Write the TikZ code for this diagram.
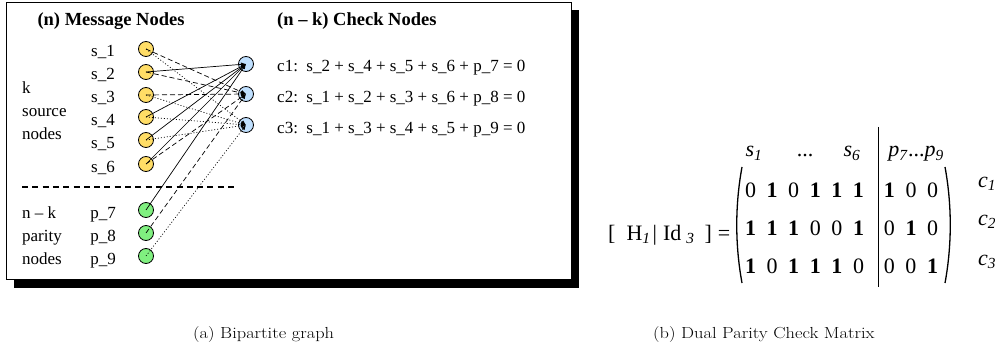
\documentclass[tikz,border=0pt]{standalone}
\usepackage{fontspec}
\usepackage{graphicx}
\usetikzlibrary{arrows.meta}
\newfontfamily\timesfont[Ligatures=TeX]{Liberation Serif}
\definecolor{graphink}{HTML}{000000}
\definecolor{sourcefill}{HTML}{FFDD66}
\definecolor{parityfill}{HTML}{80F080}
\definecolor{checkfill}{HTML}{C0E0FF}
\newcommand{\mcell}[1]{\makebox[21.6pt]{#1}}

\begin{document}
\begin{tikzpicture}[
  x=1pt,
  y=-1pt,
  every node/.style={font=\timesfont\fontsize{17}{20}\selectfont, inner sep=0pt},
  headtext/.style={font=\timesfont\bfseries\fontsize{18.5}{21}\selectfont},
  msgnode/.style={circle, draw=graphink, line width=0.8pt, minimum size=15pt, inner sep=0pt},
  srcnode/.style={msgnode, fill=sourcefill},
  parnode/.style={msgnode, fill=parityfill},
  chknode/.style={msgnode, fill=checkfill},
  edgetip/.style={graphink, line width=0.7pt, -{Latex[length=5pt,width=4pt]}},
  cone/.style={edgetip},
  ctwo/.style={edgetip, dash pattern=on 5pt off 3pt},
  cthree/.style={edgetip, dash pattern=on 1pt off 2pt},
  matnum/.style={font=\timesfont\fontsize{22}{24}\selectfont, anchor=base},
  captext/.style={font=\rmfamily\fontsize{16}{19}\selectfont, anchor=base west}
]
  \useasboundingbox (0,0) rectangle (995,358);

  % frame with shadow
  \fill[graphink] (14,279) rectangle (579,288);
  \fill[graphink] (571,10) rectangle (579,288);
  \draw[graphink, line width=0.9pt, fill=white] (6,2.5) rectangle (571.5,279);

  \node[headtext, anchor=base] (hmsg) at (111,26) {(n) Message Nodes};
  \node[headtext, anchor=base west] (hchk) at (277,26) {(n -- k) Check Nodes};

  \node[anchor=base west] (lk) at (22,94) {k};
  \node[anchor=base west] (lsrc) at (22,117) {source};
  \node[anchor=base west] (lnds) at (22,140) {nodes};
  \node[anchor=base west] (lnk) at (22,218) {n -- k};
  \node[anchor=base west] (lpar) at (22,241) {parity};
  \node[anchor=base west] (lndp) at (22,264) {nodes};

  \draw[graphink, line width=2.8pt, dash pattern=on 6pt off 4.3pt] (22,187) -- (238,187);

  % message nodes
  \node[srcnode] (s1) at (146,49) {};
  \node[srcnode] (s2) at (146,72) {};
  \node[srcnode] (s3) at (146,95) {};
  \node[srcnode] (s4) at (146,117) {};
  \node[srcnode] (s5) at (146,140) {};
  \node[srcnode] (s6) at (146,164) {};
  \node[parnode] (p7) at (146,210) {};
  \node[parnode] (p8) at (146,233) {};
  \node[parnode] (p9) at (146,256) {};

  \node[anchor=base] (ls1) at (103,57) {s\_1};
  \node[anchor=base] (ls2) at (103,80) {s\_2};
  \node[anchor=base] (ls3) at (103,103) {s\_3};
  \node[anchor=base] (ls4) at (103,126) {s\_4};
  \node[anchor=base] (ls5) at (103,149) {s\_5};
  \node[anchor=base] (ls6) at (103,173) {s\_6};
  \node[anchor=base] (lp7) at (103,218) {p\_7};
  \node[anchor=base] (lp8) at (103,241) {p\_8};
  \node[anchor=base] (lp9) at (103,264) {p\_9};

  % check nodes
  \node[chknode] (c1) at (246,64) {};
  \node[chknode] (c2) at (246,94) {};
  \node[chknode] (c3) at (246,125) {};

  \node[anchor=base west] (eq1) at (277,72) {c1:\ \ s\_2 + s\_4 + s\_5 + s\_6 + p\_7 = 0};
  \node[anchor=base west] (eq2) at (277,103) {c2:\ \ s\_1 + s\_2 + s\_3 + s\_6 + p\_8 = 0};
  \node[anchor=base west] (eq3) at (277,134) {c3:\ \ s\_1 + s\_3 + s\_4 + s\_5 + p\_9 = 0};

  % edges
  \draw[cone] (s2.center) -- (c1.center);
  \draw[cone] (s4.center) -- (c1.center);
  \draw[cone] (s5.center) -- (c1.center);
  \draw[cone] (s6.center) -- (c1.center);
  \draw[cone] (p7.center) -- (c1.center);
  \draw[ctwo] (s1.center) -- (c2.center);
  \draw[ctwo] (s2.center) -- (c2.center);
  \draw[ctwo] (s3.center) -- (c2.center);
  \draw[ctwo] (s6.center) -- (c2.center);
  \draw[ctwo] (p8.center) -- (c2.center);
  \draw[cthree] (s1.center) -- (c3.center);
  \draw[cthree] (s3.center) -- (c3.center);
  \draw[cthree] (s4.center) -- (c3.center);
  \draw[cthree] (s5.center) -- (c3.center);
  \draw[cthree] (p9.center) -- (c3.center);

  % parity check matrix
  \node[matnum, anchor=base west] (hid) at (608,240)
    {[\hspace{11pt}H\textsubscript{\textit{1}}\hspace{2pt}|\hspace{6pt}Id\hspace{5pt}\textsubscript{\textit{3}}\hspace{10pt}]\hspace{6pt}=};
  \node[matnum] (ts1) at (754,157) {\textit{s}\textsubscript{\textit{1}}};
  \node[matnum] (tdots) at (805,157) {...};
  \node[matnum] (ts6) at (852,157) {\textit{s}\textsubscript{\textit{6}}};
  \node[matnum] (tp) at (916,157)
    {\textit{p}\textsubscript{\textit{7}}...\textit{p}\textsubscript{\textit{9}}};

  \node[matnum] (r1s) at (804.5,197) {\mcell{0}\mcell{\textbf{1}}\mcell{0}\mcell{\textbf{1}}\mcell{\textbf{1}}\mcell{\textbf{1}}};
  \node[matnum] (r2s) at (804.5,235) {\mcell{\textbf{1}}\mcell{\textbf{1}}\mcell{\textbf{1}}\mcell{0}\mcell{0}\mcell{\textbf{1}}};
  \node[matnum] (r3s) at (804.5,273) {\mcell{\textbf{1}}\mcell{0}\mcell{\textbf{1}}\mcell{\textbf{1}}\mcell{\textbf{1}}\mcell{0}};
  \node[matnum] (r1p) at (911,197) {\mcell{\textbf{1}}\mcell{0}\mcell{0}};
  \node[matnum] (r2p) at (911,235) {\mcell{0}\mcell{\textbf{1}}\mcell{0}};
  \node[matnum] (r3p) at (911,273) {\mcell{0}\mcell{0}\mcell{\textbf{1}}};

  \draw[graphink, line width=1.3pt] (742,167) .. controls (735,205) and (735,245) .. (742,283);
  \draw[graphink, line width=1.3pt] (945,167) .. controls (952,205) and (952,245) .. (945,283);
  \draw[graphink, line width=0.8pt] (878,127) -- (878,287);

  \node[matnum] (rc1) at (987,187) {\textit{c}\textsubscript{\textit{1}}};
  \node[matnum] (rc2) at (987,225) {\textit{c}\textsubscript{\textit{2}}};
  \node[matnum] (rc3) at (987,265) {\textit{c}\textsubscript{\textit{3}}};

  % captions
  \node[captext] (capa) at (193,338) {\scalebox{1.15}[1]{(a) Bipartite graph}};
  \node[captext] (capb) at (653,338) {\scalebox{1.15}[1]{(b) Dual Parity Check Matrix}};
\end{tikzpicture}
\end{document}
